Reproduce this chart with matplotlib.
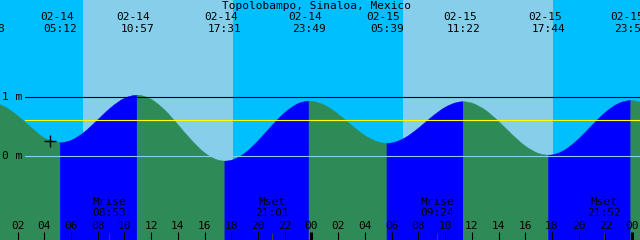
import numpy as np
import matplotlib
matplotlib.use('Agg')
import matplotlib.pyplot as plt
import matplotlib.transforms as mtrans
from matplotlib.path import Path
from matplotlib.patches import PathPatch

# tide station
station = 'Topolobampo, Sinaloa, Mexico'

# hourly water level (m), hours counted from 02-14 00:00
hours = list(range(0, 50))
levels = [0.915, 0.84, 0.685, 0.49, 0.31, 0.24, 0.268, 0.408, 0.614, 0.824,
          0.977, 1.03, 0.962, 0.784, 0.537, 0.277, 0.061, -0.063, -0.066, 0.051,
          0.260, 0.508, 0.736, 0.888, 0.928, 0.861, 0.712, 0.524, 0.351, 0.242,
          0.226, 0.312, 0.473, 0.663, 0.825, 0.913, 0.898, 0.782, 0.591, 0.371,
          0.175, 0.049, 0.024, 0.113, 0.294, 0.523, 0.741, 0.892, 0.94, 0.884]

# high / low tides
ext_dates = ['02-13', '02-14', '02-14', '02-14', '02-14', '02-15', '02-15', '02-15', '02-15']
ext_times = ['23:48', '05:12', '10:57', '17:31', '23:49', '05:39', '11:22', '17:44', '23:54']
ext_levels = [0.925, 0.23, 1.03, -0.08, 0.93, 0.22, 0.92, 0.02, 0.94]
ext_kind = ['H', 'L', 'H', 'L', 'H', 'L', 'H', 'L', 'H']

# moon rise / set
moon_names = ['Mrise', 'Mset', 'Mrise', 'Mset']
moon_dates = ['02-14', '02-14', '02-15', '02-15']
moon_times = ['08:53', '21:01', '09:24', '21:52']

# sunrise / sunset
sun_dates = ['02-14', '02-15']
sunrise = ['06:54', '06:51']
sunset = ['18:08', '18:05']

mean_level = 0.61
now_hour, now_level = 4.43, 0.258


def to_hours(date, hhmm):
    day = int(date[3:]) - 14
    h, m = hhmm.split(':')
    return day * 24 + int(h) + int(m) / 60.0


ext_h = [to_hours(d, t) for d, t in zip(ext_dates, ext_times)]
moon_h = [to_hours(d, t) for d, t in zip(moon_dates, moon_times)]

plt.rcParams['font.family'] = 'DejaVu Sans Mono'
plt.rcParams['font.size'] = 8

fig = plt.figure(figsize=(6.4, 2.4), dpi=100)
fig.patch.set_facecolor('#00BFFF')
ax = fig.add_axes([0, 0, 1, 1])
ax.set_xlim(0.689, 48.59)
ax.set_ylim(-1.411, 2.636)
ax.axis('off')

# daylight
for d, r, s in zip(sun_dates, sunrise, sunset):
    ax.axvspan(to_hours(d, r), to_hours(d, s), color='#87CEEB', lw=0, zorder=0)

# water points (hourly + turning points), slopes for a smooth bezier curve
t_all = np.array(hours + ext_h, dtype=float)
h_all = np.array(levels + ext_levels, dtype=float)
is_ext = np.array([False] * len(hours) + [True] * len(ext_h))
o = np.argsort(t_all)
t_all, h_all, is_ext = t_all[o], h_all[o], is_ext[o]
slope = np.gradient(h_all, t_all)
slope[is_ext] = 0.0


def water_path(ta, tb, bottom=-2.0):
    idx = np.where((t_all >= ta) & (t_all <= tb))[0]
    verts = [(t_all[idx[0]], bottom), (t_all[idx[0]], h_all[idx[0]])]
    codes = [Path.MOVETO, Path.LINETO]
    for a, b in zip(idx[:-1], idx[1:]):
        dt = t_all[b] - t_all[a]
        verts += [(t_all[a] + dt / 3, h_all[a] + slope[a] * dt / 3),
                  (t_all[b] - dt / 3, h_all[b] - slope[b] * dt / 3),
                  (t_all[b], h_all[b])]
        codes += [Path.CURVE4] * 3
    verts += [(t_all[idx[-1]], bottom), (t_all[idx[0]], bottom)]
    codes += [Path.LINETO, Path.CLOSEPOLY]
    return Path(verts, codes)


# blue while rising, green while falling
bounds = ext_h + [hours[-1]]
for i in range(len(bounds) - 1):
    col = '#0000FF' if ext_kind[i] == 'L' else '#2E8B57'
    ax.add_patch(PathPatch(water_path(bounds[i], bounds[i + 1]), facecolor=col,
                           edgecolor=col, lw=0.3, zorder=1))

# level lines
x0 = 25 / 640
ax.axhline(1, xmin=x0, color='black', lw=0.8, zorder=2)
ax.axhline(mean_level, xmin=x0, color='#FFFF00', lw=0.8, zorder=2)
ax.axhline(0, xmin=x0, color='#87CEEB', lw=0.8, zorder=2)
yt = mtrans.blended_transform_factory(ax.transAxes, ax.transData)
ax.text(2 / 640, 1, '1 m', transform=yt, va='center', ha='left')
ax.text(2 / 640, 0, '0 m', transform=yt, va='center', ha='left')

ax.plot(now_hour, now_level, '+', color='black', ms=8, mew=1, zorder=3)

xt = ax.get_xaxis_transform()
ax.text(0.494, 1 - 6 / 240, station, transform=ax.transAxes, ha='center', va='center')
tdate = mtrans.offset_copy(xt, fig=fig, x=-3.5, units='dots')
for t, d, s in zip(ext_h, ext_dates, ext_times):
    ax.text(t, 1 - 17 / 240, d, transform=tdate, ha='center', va='center')
    ax.text(t, 1 - 29 / 240, s, transform=xt, ha='center', va='center')

# moon events
for t, n, s in zip(moon_h, moon_names, moon_times):
    ax.text(t, 1 - 202 / 240, n, transform=xt, ha='center', va='center')
    ax.text(t, 1 - 212.5 / 240, s, transform=xt, ha='center', va='center')
    ax.vlines(t, 0, 7 / 240, transform=xt, color='#404040', lw=0.7, zorder=3)

# hour ticks
for hh in range(2, 49, 2):
    ax.text(hh, 1 - 226 / 240, '%02d' % (hh % 24), transform=xt, ha='center', va='center')
    w = 2.2 if hh % 24 == 0 else 0.8
    ax.vlines(hh, 0, 8 / 240, transform=xt, color='black', lw=w, zorder=3)

fig.savefig('out.png', dpi=100, facecolor=fig.get_facecolor())
